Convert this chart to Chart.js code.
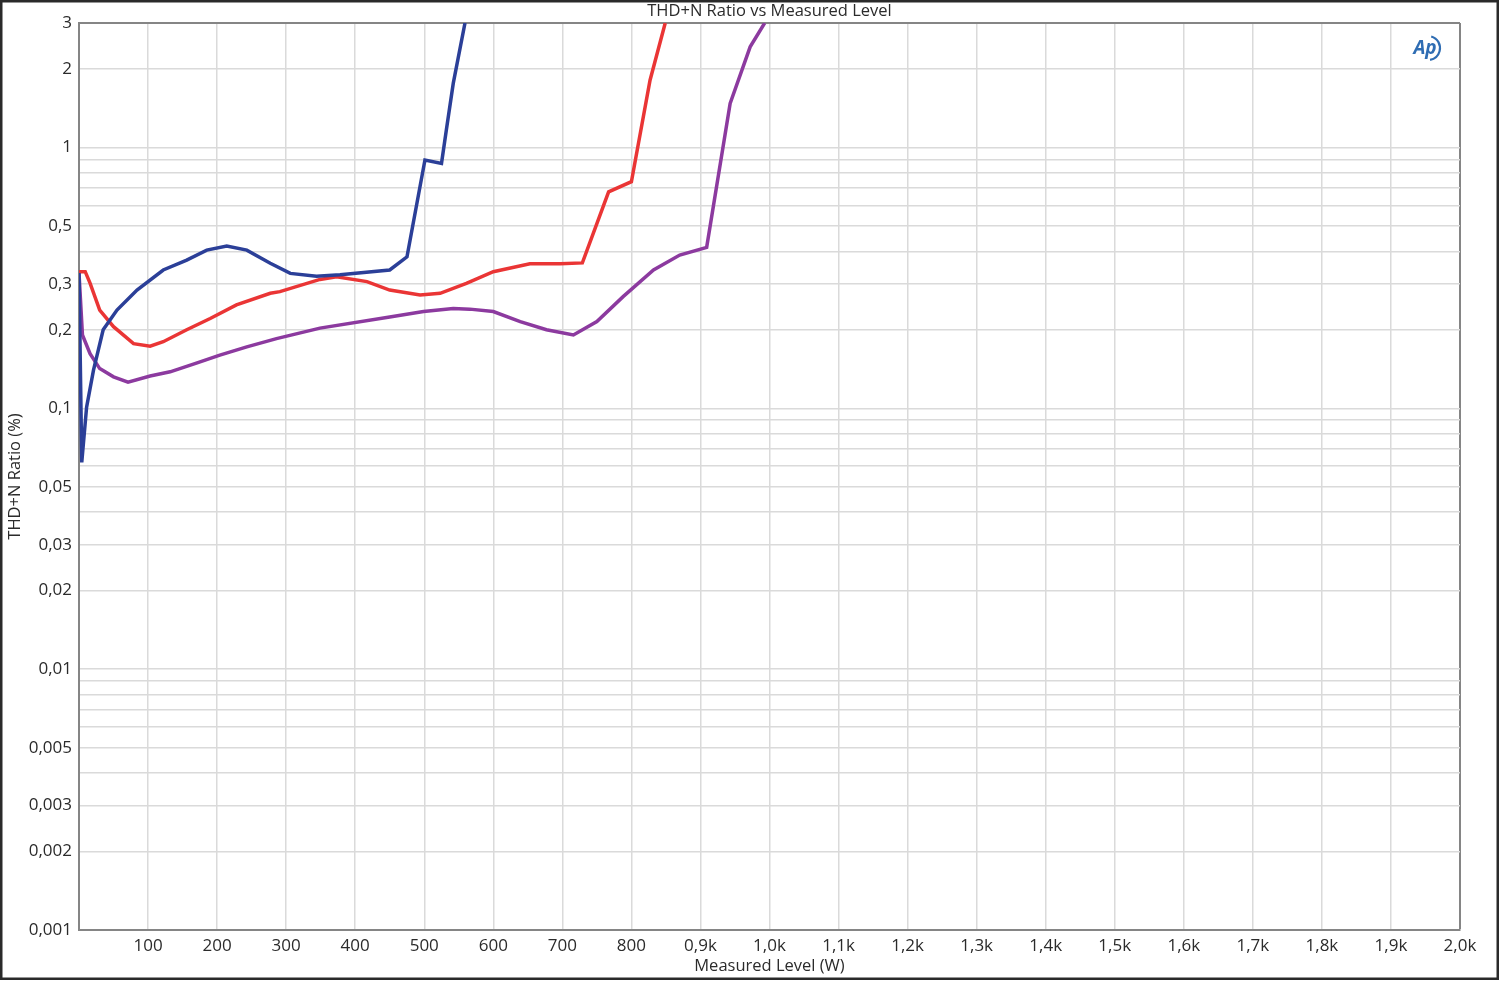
<!DOCTYPE html>
<html>
<head>
<meta charset="utf-8">
<script src="https://cdn.jsdelivr.net/npm/chart.js@4.4.1/dist/chart.umd.min.js"></script>
<style>
html,body{margin:0;padding:0;background:#fff;}
canvas{display:block;}
</style>
</head>
<body>
<canvas id="c" width="1500" height="981"></canvas>
<script>
// ---- data (Measured Level in W, THD+N Ratio in %) ----
const blueW   = [0, 4, 11, 21, 35, 55, 84, 122, 156, 185, 214, 243, 277, 306, 344, 378, 450, 475, 501, 525, 532, 542, 559];
const blueThd = [0.33, 0.062, 0.101, 0.140, 0.200, 0.238, 0.284, 0.339, 0.370, 0.404, 0.419, 0.404, 0.360, 0.329, 0.321, 0.325, 0.339, 0.381, 0.895, 0.869, 1.167, 1.76, 3.0];

const redW    = [0, 9, 16, 30, 50, 79, 103, 122, 156, 190, 228, 277, 291, 349, 373, 417, 450, 494, 523, 561, 600, 653, 697, 729, 767, 800, 827, 849];
const redThd  = [0.334, 0.334, 0.302, 0.238, 0.2055, 0.177, 0.173, 0.18, 0.2, 0.221, 0.249, 0.276, 0.280, 0.312, 0.3195, 0.306, 0.284, 0.272, 0.276, 0.301, 0.334, 0.358, 0.358, 0.361, 0.676, 0.739, 1.81, 3.0];

const purpleW   = [0, 5, 16, 30, 50, 71, 103, 132, 170, 204, 243, 286, 349, 450, 499, 542, 566, 600, 639, 677, 716, 750, 788, 832, 870, 909, 943, 972, 993];
const purpleThd = [0.33, 0.191, 0.162, 0.142, 0.132, 0.126, 0.133, 0.138, 0.149, 0.160, 0.172, 0.185, 0.203, 0.224, 0.235, 0.2415, 0.24, 0.235, 0.215, 0.2, 0.191, 0.215, 0.268, 0.339, 0.387, 0.414, 1.476, 2.43, 3.0];

// ---- ticks ----
const xTickValues = [0,100,200,300,400,500,600,700,800,900,1000,1100,1200,1300,1400,1500,1600,1700,1800,1900,2000];
const xTickLabels = ['', '100','200','300','400','500','600','700','800','0,9k','1,0k','1,1k','1,2k','1,3k','1,4k','1,5k','1,6k','1,7k','1,8k','1,9k','2,0k'];

const yGridValues = [0.001,0.002,0.003,0.004,0.005,0.006,0.007,0.008,0.009,
                     0.01,0.02,0.03,0.04,0.05,0.06,0.07,0.08,0.09,
                     0.1,0.2,0.3,0.4,0.5,0.6,0.7,0.8,0.9,
                     1,2,3];
const yLabelValues = [0.001,0.002,0.003,0.005,0.01,0.02,0.03,0.05,0.1,0.2,0.3,0.5,1,2,3];
const yLabelTexts  = ['0,001','0,002','0,003','0,005','0,01','0,02','0,03','0,05','0,1','0,2','0,3','0,5','1','2','3'];

const FONT = 'Open Sans';
const TXT = '#2b2b2b';
const GRID = '#dadada';
const FRAME = '#858585';

function pts(xs, ys){ return xs.map((x,i)=>({x:x, y:ys[i]})); }

const decor = {
  id: 'decor',
  beforeDraw(chart){
    const c = chart.ctx; c.save();
    c.fillStyle = '#ffffff'; c.fillRect(0,0,chart.width,chart.height);
    c.restore();
  },
  afterDraw(chart){
    const c = chart.ctx, a = chart.chartArea;
    c.save();
    // outer frame
    c.strokeStyle = '#2a2a2a'; c.lineWidth = 2.5;
    c.strokeRect(1.25, 1.25, chart.width - 3.5, chart.height - 3.5);
    // AP logo
    const lx = a.right - 33, ly = a.top + 25;
    c.fillStyle = '#2f6db3';
    c.font = 'italic bold 19px "' + FONT + '"';
    c.textAlign = 'center'; c.textBaseline = 'middle';
    c.fillText('Ap', lx - 2, ly + 1);
    c.strokeStyle = '#2f6db3'; c.lineWidth = 2.2;
    c.beginPath(); c.arc(lx + 1, ly, 12, -1.3, 1.4); c.stroke();
    c.restore();
  }
};

new Chart(document.getElementById('c'), {
  type: 'line',
  data: {
    datasets: [
      {label:'Blue', data: pts(blueW, blueThd), borderColor:'#2b3f98', borderWidth:3.5, pointRadius:0, tension:0, fill:false},
      {label:'Red', data: pts(redW, redThd), borderColor:'#ea3535', borderWidth:3.5, pointRadius:0, tension:0, fill:false},
      {label:'Purple', data: pts(purpleW, purpleThd), borderColor:'#8c3a9f', borderWidth:3.5, pointRadius:0, tension:0, fill:false}
    ]
  },
  options: {
    responsive: false,
    animation: false,
    devicePixelRatio: 1,
    layout: {padding: {left:0, right:40, top:0, bottom:0}},
    plugins: {
      legend: {display:false},
      tooltip: {enabled:false},
      title: {
        display: true, text: 'THD+N Ratio vs Measured Level', fullSize: false,
        color: TXT, font: {family: FONT, size: 16.5, weight: 'normal', lineHeight: 1.1},
        padding: {top: 2, bottom: 2.85}
      }
    },
    scales: {
      x: {
        type: 'linear', min: 0, max: 2000,
        afterBuildTicks: s => { s.ticks = xTickValues.map(v => ({value: v})); },
        afterFit: s => { s.height = 51; },
        ticks: {
          autoSkip: false, maxRotation: 0, padding: 6, color: TXT,
          font: {family: FONT, size: 17},
          callback: (v) => { const i = xTickValues.indexOf(v); return i >= 0 ? xTickLabels[i] : ''; }
        },
        grid: {
          drawTicks: false,
          color: ctx => (ctx.tick && ctx.tick.value === 2000) ? FRAME : GRID,
          lineWidth: ctx => (ctx.tick && ctx.tick.value === 2000) ? 2 : 1.5
        },
        border: {color: FRAME, width: 2},
        title: {display: true, text: 'Measured Level (W)', color: TXT, font: {family: FONT, size: 16.5}, padding: {top: 0, bottom: 5}}
      },
      y: {
        type: 'logarithmic', min: 0.001, max: 3,
        afterBuildTicks: s => { s.ticks = yGridValues.map(v => ({value: v})); },
        afterFit: s => { s.width = 79; },
        ticks: {
          autoSkip: false, padding: 7, color: TXT,
          font: {family: FONT, size: 17},
          callback: (v) => { const i = yLabelValues.indexOf(v); return i >= 0 ? yLabelTexts[i] : ''; }
        },
        grid: {
          drawTicks: false,
          color: ctx => (ctx.tick && ctx.tick.value === 3) ? FRAME : GRID,
          lineWidth: ctx => (ctx.tick && ctx.tick.value === 3) ? 2 : 1.5
        },
        border: {color: FRAME, width: 2},
        title: {display: true, text: 'THD+N Ratio (%)', color: TXT, font: {family: FONT, size: 16.5}, padding: {top: 5, bottom: 0}}
      }
    }
  },
  plugins: [decor]
});
</script>
</body>
</html>
